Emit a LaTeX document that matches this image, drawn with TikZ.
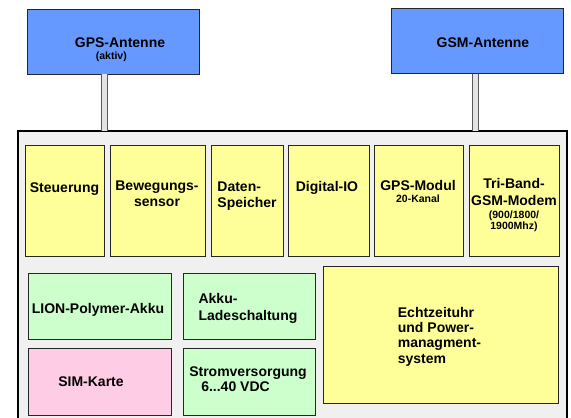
\documentclass[tikz,border=0pt]{standalone}
\usepackage{fontspec}
\setmainfont{Liberation Sans}
\usetikzlibrary{positioning}
\definecolor{antblue}{HTML}{6699FF}
\definecolor{boxyellow}{HTML}{FFFF99}
\definecolor{boxgreen}{HTML}{CCFFCC}
\definecolor{boxpink}{HTML}{FFCCE6}
\definecolor{casegray}{HTML}{F0F0F0}
\definecolor{stemgray}{HTML}{E3E3E3}
\newcommand{\smalltxt}{\fontsize{10.5}{12}\selectfont}
\tikzset{every node/.style={ % Bold Arial-like text everywhere
            font=\fontsize{14}{16}\selectfont\bfseries},
        box/.style={ % Common look of the blocks
            draw=black!85,
            line width=1pt,
            inner sep=0pt,
            outer sep=0pt},
        antenna/.style={box, fill=antblue, minimum height=65pt},
        yellowbox/.style={box, fill=boxyellow, minimum height=111pt},
        greenbox/.style={box, fill=boxgreen},
        pinkbox/.style={box, fill=boxpink},
        case/.style={draw=black, line width=1.5pt, fill=casegray, inner sep=0pt, outer sep=0pt},
        stem/.style={ % Antenna cable
            draw=black!65,
            line width=0.9pt,
            double=stemgray,
            double distance=5.5pt}
        }

\begin{document}
\begin{tikzpicture}[x=1pt, y=-1pt]
    \useasboundingbox (0,0) rectangle (571,418);
    \clip (0,0) rectangle (571,418);

    % antennas
    \node[antenna, minimum width=172pt] (gpsant) at (113,41.5) {};
    \node[antenna, minimum width=172pt] (gsmant) at (477,41) {};

    % housing
    \node[case, minimum width=549pt, minimum height=294pt] (outer) at (292.5,278) {};

    \draw[stem] ([xshift=-8.5pt]gpsant.south) -- ([xshift=-8.5pt]gpsant.south |- outer.north);
    \draw[stem] ([xshift=-1.5pt]gsmant.south) -- ([xshift=-1.5pt]gsmant.south |- outer.north);

    % upper row
    \node[yellowbox, minimum width=79pt] (steu) at (64.5,200.5) {};
    \node[yellowbox, minimum width=95pt] (beweg) [right=6pt of steu] {};
    \node[yellowbox, minimum width=72pt] (daten) [right=6pt of beweg] {};
    \node[yellowbox, minimum width=81pt] (digio) [right=5pt of daten] {};
    \node[yellowbox, minimum width=89pt] (gpsmod) [right=5pt of digio] {};
    \node[yellowbox, minimum width=90pt] (gsmmod) [right=6pt of gpsmod] {};

    % lower blocks
    \node[greenbox, minimum width=143pt, minimum height=66pt] (akku) at (99.5,306) {};
    \node[greenbox, minimum width=132pt, minimum height=66pt] (laden) [right=12pt of akku] {};
    \node[pinkbox, minimum width=143pt, minimum height=67pt] (sim) [below=9pt of akku] {};
    \node[greenbox, minimum width=132pt, minimum height=67pt] (strom) [below=9pt of laden] {};
    \node[yellowbox, minimum width=235pt, minimum height=137pt] (rtc) at (440.5,334.5) {};

    % texts
    \node[align=left] (gpsant-t) at (120,49.5)
        {GPS-Antenne\\[-3.5pt]\hspace*{21pt}\smalltxt (aktiv)};
    \node[anchor=base] (gsmant-t) at (483,47) {GSM-Antenne};
    \node[anchor=base] (steu-t) at (64.5,192) {Steuerung};
    \node[align=center] (beweg-t) at (157,194) {Bewegungs-\\sensor};
    \node[align=left] (daten-t) at (247,196) {Daten-\\Speicher};
    \node[anchor=base] (digio-t) at (327,191) {Digital-IO};
    \node[align=center] (gpsmod-t) at (418,191.5) {GPS-Modul\\[-4.5pt]\smalltxt 20-Kanal};
    \node[align=center] (gsmmod-t) at (514,205)
        {Tri-Band-\\[1pt]GSM-Modem\\[-3pt]\smalltxt (900/1800/\\[-5pt]\smalltxt 1900Mhz)};
    \node[anchor=base] (akku-t) at (98,313) {LION-Polymer-Akku};
    \node[align=left] (laden-t) at (248,308) {Akku-\\[1pt]Ladeschaltung};
    \node[anchor=base] (sim-t) at (91,386) {SIM-Karte};
    \node[align=left] (strom-t) at (248,379.5) {Stromversorgung\\[-1pt]\hspace*{12pt}6...40 VDC};
    \node[align=left] (rtc-t) at (439.5,336.5)
        {Echtzeituhr\\[-0.7pt]und Power-\\[-0.7pt]managment-\\[-0.7pt]system};
\end{tikzpicture}
\end{document}
